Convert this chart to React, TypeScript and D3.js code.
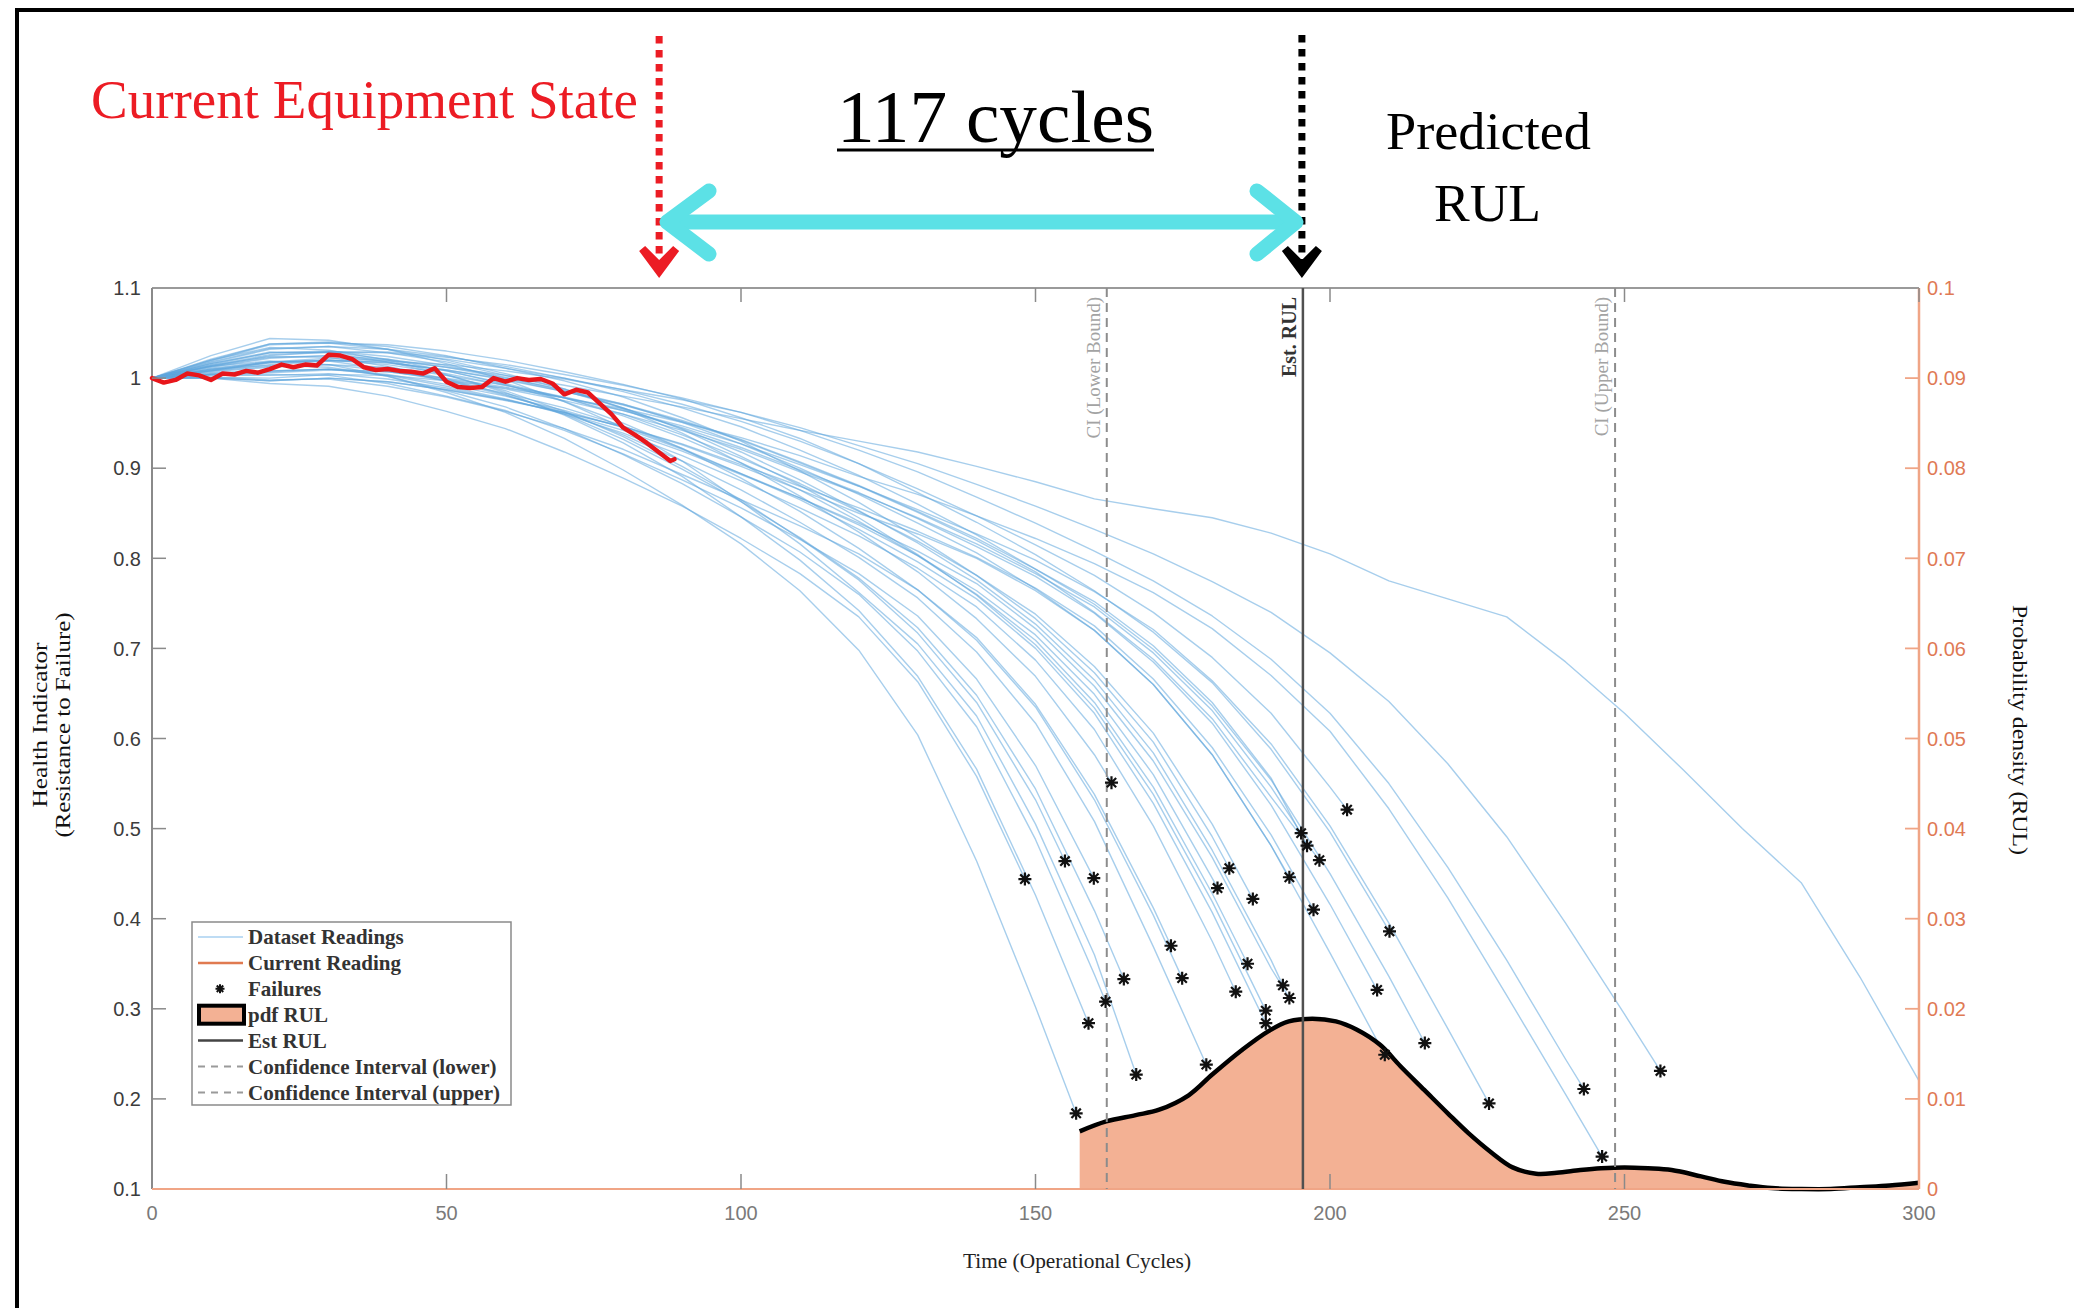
import React from "react";
import * as d3 from "d3";

// health indicator of each run-to-failure unit, sampled every 10 cycles from t = 0
const readings: number[][] = [
  [1.0, 1.0, 0.994, 0.991, 0.98, 0.963, 0.944, 0.918, 0.889, 0.858, 0.822, 0.783, 0.735, 0.663, 0.558],
  [1.0, 1.016, 1.029, 1.028, 1.018, 1.003, 0.986, 0.963, 0.935, 0.902, 0.865, 0.822, 0.776, 0.717, 0.64, 0.532],
  [1.0, 1.004, 1.004, 1.003, 0.994, 0.98, 0.964, 0.942, 0.916, 0.887, 0.856, 0.821, 0.783, 0.736, 0.666, 0.57],
  [1.0, 1.021, 1.038, 1.039, 1.032, 1.02, 1.005, 0.988, 0.966, 0.939, 0.906, 0.869, 0.829, 0.785, 0.733, 0.669, 0.582],
  [1.0, 1.013, 1.019, 1.015, 1.002, 0.984, 0.962, 0.933, 0.898, 0.859, 0.816, 0.764, 0.698, 0.604, 0.464, 0.302],
  [1.0, 1.02, 1.034, 1.031, 1.02, 1.004, 0.984, 0.959, 0.928, 0.891, 0.846, 0.798, 0.742, 0.669, 0.566, 0.426],
  [1.0, 1.01, 1.014, 1.012, 1.002, 0.986, 0.968, 0.944, 0.915, 0.883, 0.846, 0.807, 0.76, 0.697, 0.613, 0.488, 0.338],
  [1.0, 1.014, 1.024, 1.023, 1.013, 0.999, 0.982, 0.96, 0.932, 0.899, 0.863, 0.823, 0.778, 0.723, 0.648, 0.544, 0.409],
  [1.0, 1.025, 1.044, 1.042, 1.032, 1.016, 0.998, 0.974, 0.945, 0.908, 0.863, 0.816, 0.762, 0.705, 0.625, 0.505, 0.36],
  [1.0, 1.001, 0.998, 0.999, 0.991, 0.979, 0.963, 0.944, 0.921, 0.893, 0.865, 0.836, 0.805, 0.765, 0.712, 0.638, 0.538, 0.412],
  [1.0, 1.016, 1.028, 1.029, 1.021, 1.008, 0.993, 0.974, 0.95, 0.922, 0.889, 0.852, 0.811, 0.765, 0.709, 0.635, 0.532, 0.404],
  [1.0, 1.011, 1.018, 1.019, 1.01, 0.997, 0.981, 0.962, 0.937, 0.908, 0.876, 0.84, 0.801, 0.756, 0.696, 0.617, 0.508, 0.369],
  [1.0, 1.005, 1.008, 1.01, 1.004, 0.993, 0.98, 0.964, 0.945, 0.921, 0.894, 0.867, 0.837, 0.803, 0.764, 0.715, 0.649, 0.56, 0.445],
  [1.0, 1.02, 1.038, 1.04, 1.035, 1.025, 1.011, 0.997, 0.979, 0.956, 0.93, 0.897, 0.862, 0.823, 0.781, 0.733, 0.673, 0.596, 0.491],
  [1.0, 1.01, 1.018, 1.02, 1.015, 1.005, 0.992, 0.978, 0.96, 0.937, 0.911, 0.883, 0.852, 0.819, 0.781, 0.738, 0.68, 0.606, 0.505],
  [1.0, 1.006, 1.008, 1.01, 1.003, 0.991, 0.977, 0.96, 0.939, 0.914, 0.886, 0.856, 0.825, 0.789, 0.746, 0.687, 0.61, 0.503, 0.375],
  [1.0, 1.013, 1.023, 1.025, 1.018, 1.008, 0.994, 0.978, 0.958, 0.934, 0.906, 0.876, 0.841, 0.803, 0.76, 0.709, 0.64, 0.546, 0.428],
  [1.0, 1.018, 1.033, 1.035, 1.028, 1.018, 1.003, 0.988, 0.967, 0.943, 0.913, 0.881, 0.845, 0.804, 0.759, 0.704, 0.634, 0.538, 0.419],
  [1.0, 1.008, 1.013, 1.015, 1.008, 0.997, 0.983, 0.967, 0.947, 0.922, 0.894, 0.865, 0.832, 0.796, 0.755, 0.7, 0.628, 0.528, 0.407],
  [1.0, 1.015, 1.028, 1.03, 1.024, 1.014, 1.001, 0.986, 0.967, 0.944, 0.918, 0.887, 0.853, 0.817, 0.776, 0.727, 0.665, 0.584, 0.476, 0.354],
  [1.0, 1.003, 1.003, 1.005, 0.999, 0.989, 0.976, 0.961, 0.942, 0.919, 0.893, 0.867, 0.839, 0.808, 0.772, 0.722, 0.658, 0.575, 0.468, 0.345],
  [1.0, 1.012, 1.022, 1.025, 1.021, 1.012, 1.0, 0.987, 0.971, 0.951, 0.927, 0.9, 0.871, 0.839, 0.806, 0.766, 0.72, 0.66, 0.582, 0.481],
  [1.0, 1.004, 1.007, 1.01, 1.007, 0.999, 0.988, 0.975, 0.96, 0.942, 0.921, 0.896, 0.872, 0.845, 0.816, 0.783, 0.746, 0.695, 0.631, 0.546],
  [1.0, 1.017, 1.032, 1.035, 1.032, 1.024, 1.013, 1.0, 0.985, 0.967, 0.946, 0.92, 0.892, 0.86, 0.826, 0.788, 0.752, 0.703, 0.64, 0.556],
  [1.0, 1.009, 1.017, 1.02, 1.017, 1.009, 0.998, 0.985, 0.97, 0.952, 0.931, 0.906, 0.88, 0.851, 0.82, 0.785, 0.74, 0.688, 0.622, 0.535],
  [1.0, 1.0, 0.997, 1.0, 0.996, 0.987, 0.976, 0.962, 0.946, 0.927, 0.904, 0.88, 0.856, 0.83, 0.801, 0.767, 0.725, 0.666, 0.59, 0.493],
  [1.0, 1.014, 1.026, 1.029, 1.028, 1.021, 1.011, 1.0, 0.987, 0.971, 0.952, 0.93, 0.905, 0.877, 0.847, 0.815, 0.781, 0.74, 0.69, 0.628, 0.546],
  [1.0, 1.007, 1.012, 1.015, 1.012, 1.003, 0.992, 0.979, 0.964, 0.945, 0.923, 0.898, 0.873, 0.844, 0.813, 0.78, 0.739, 0.685, 0.617, 0.526, 0.416],
  [1.0, 1.019, 1.037, 1.039, 1.037, 1.03, 1.02, 1.007, 0.993, 0.977, 0.956, 0.933, 0.905, 0.873, 0.84, 0.804, 0.764, 0.718, 0.662, 0.588, 0.496],
  [1.0, 1.0, 0.997, 1.0, 0.996, 0.987, 0.975, 0.962, 0.946, 0.926, 0.902, 0.876, 0.85, 0.827, 0.8, 0.764, 0.72, 0.66, 0.582, 0.481, 0.362],
  [1.0, 1.009, 1.017, 1.02, 1.017, 1.009, 0.999, 0.985, 0.971, 0.953, 0.932, 0.907, 0.881, 0.852, 0.822, 0.788, 0.749, 0.699, 0.636, 0.554, 0.45, 0.336],
  [1.0, 1.004, 1.006, 1.009, 1.007, 1.0, 0.99, 0.978, 0.964, 0.947, 0.927, 0.904, 0.88, 0.854, 0.827, 0.798, 0.763, 0.721, 0.664, 0.594, 0.503, 0.395, 0.278],
  [1.0, 1.013, 1.025, 1.029, 1.029, 1.023, 1.015, 1.004, 0.992, 0.978, 0.962, 0.942, 0.92, 0.896, 0.868, 0.839, 0.808, 0.775, 0.736, 0.688, 0.628, 0.55, 0.457, 0.354, 0.244],
  [1.0, 1.001, 1.0, 1.004, 1.003, 0.997, 0.989, 0.978, 0.966, 0.951, 0.934, 0.914, 0.891, 0.871, 0.847, 0.822, 0.794, 0.762, 0.722, 0.67, 0.608, 0.522, 0.423, 0.315, 0.205],
  [1.0, 1.008, 1.015, 1.019, 1.019, 1.015, 1.008, 0.999, 0.987, 0.976, 0.962, 0.945, 0.925, 0.905, 0.882, 0.858, 0.832, 0.805, 0.774, 0.74, 0.695, 0.641, 0.572, 0.491, 0.395, 0.294],
  [1.0, 1.008, 1.018, 1.022, 1.02, 1.012, 1.003, 0.992, 0.98, 0.968, 0.955, 0.942, 0.93, 0.918, 0.902, 0.885, 0.866, 0.855, 0.845, 0.828, 0.805, 0.775, 0.755, 0.735, 0.685, 0.628, 0.565, 0.5, 0.44, 0.335, 0.22],
];

// failure point of each unit (the last unit does not fail before 300)
const failT = [148.2, 155.0, 159.9, 162.9, 156.9, 159.0, 161.9, 165.0, 167.1, 173.0, 174.9, 179.0, 180.9, 182.9, 186.9, 184.0, 186.0, 189.1, 189.1, 192.0, 193.1, 193.1, 195.1, 196.1, 198.2, 197.2, 202.9, 208.0, 210.1, 209.3, 216.1, 227.0, 243.1, 246.2, 256.1];
const failV = [0.444, 0.464, 0.445, 0.551, 0.184, 0.284, 0.308, 0.333, 0.227, 0.37, 0.334, 0.238, 0.434, 0.456, 0.422, 0.319, 0.35, 0.298, 0.284, 0.326, 0.312, 0.446, 0.495, 0.481, 0.465, 0.41, 0.521, 0.321, 0.386, 0.249, 0.262, 0.195, 0.211, 0.136, 0.231];

// current equipment reading
const currentT = [0, 2, 4, 6, 8, 10, 12, 14, 16, 18, 20, 22, 24, 26, 28, 30, 32, 34, 36, 38, 40, 42, 44, 46, 48, 50, 52, 54, 56, 58, 60, 62, 64, 66, 68, 70, 72, 74, 76, 78, 80, 82, 84, 86, 88, 88.7];
const currentV = [1.0, 0.995, 0.998, 1.005, 1.003, 0.998, 1.005, 1.004, 1.008, 1.006, 1.01, 1.015, 1.012, 1.015, 1.014, 1.026, 1.025, 1.021, 1.012, 1.009, 1.01, 1.008, 1.007, 1.005, 1.011, 0.996, 0.99, 0.989, 0.99, 1.0, 0.996, 1.0, 0.998, 0.999, 0.994, 0.982, 0.987, 0.984, 0.972, 0.96, 0.945, 0.937, 0.928, 0.918, 0.908, 0.91];

// probability density of RUL (right axis)
const pdfT = [157.5, 162, 167, 171, 176, 180, 185, 189.5, 193, 197, 201, 204.5, 208.5, 212, 216, 220, 223.5, 227.5, 231, 235, 238.5, 242.5, 246, 250, 254, 258, 263, 267, 271, 275, 280, 285, 290, 295, 300];
const pdfV = [0.0064, 0.0075, 0.0082, 0.0088, 0.0104, 0.0127, 0.0154, 0.0175, 0.0186, 0.0189, 0.0186, 0.0177, 0.016, 0.0136, 0.011, 0.0084, 0.0062, 0.004, 0.0024, 0.0017, 0.0018, 0.0021, 0.0023, 0.0024, 0.0023, 0.0021, 0.0014, 0.0008, 0.0004, 0.0001, 0.0, 0.0, 0.0002, 0.0004, 0.0007];

const estRUL = 195.4;
const ciLower = 162.1;
const ciUpper = 248.4;
const currentState = 86.1;

const xTicks = [0, 50, 100, 150, 200, 250, 300];
const hiTicks = [0.1, 0.2, 0.3, 0.4, 0.5, 0.6, 0.7, 0.8, 0.9, 1, 1.1];
const hiLabels = ["0.1", "0.2", "0.3", "0.4", "0.5", "0.6", "0.7", "0.8", "0.9", "1", "1.1"];
const pdfTicks = [0, 0.01, 0.02, 0.03, 0.04, 0.05, 0.06, 0.07, 0.08, 0.09, 0.1];
const pdfLabels = ["0", "0.01", "0.02", "0.03", "0.04", "0.05", "0.06", "0.07", "0.08", "0.09", "0.1"];
const legendItems = ["Dataset Readings", "Current Reading", "Failures", "pdf RUL", "Est RUL", "Confidence Interval (lower)", "Confidence Interval (upper)"];

const SERIF = "'Liberation Serif', 'DejaVu Serif', serif";
const SANS = "'Liberation Sans', Arial, sans-serif";
const SALMON = "#f3b194";
const AXIS_ORANGE = "#f0a586";
const LABEL_ORANGE = "#df7a55";
const BLUE = "#5ea6dc";

// asterisk marker like matlab '*'
const star = (s: number) => {
  const k = s * 0.72;
  return `M${-s},0H${s}M0,${-s}V${s}M${-k},${-k}L${k},${k}M${-k},${k}L${k},${-k}`;
};

export default function App() {
  const left = 152, right = 1919, top = 288, bottom = 1189;
  const x = d3.scaleLinear().domain([0, 300]).range([left, right]);
  const yHI = d3.scaleLinear().domain([0.1, 1.1]).range([bottom, top]);
  const yPdf = d3.scaleLinear().domain([0, 0.1]).range([bottom, top]);

  const hiLine = d3
    .line<[number, number]>()
    .x((d) => x(d[0]))
    .y((d) => yHI(d[1]));

  const series = readings.map((row, i) => {
    const pts: [number, number][] = row.map((v, k) => [k * 10, v]);
    if (i < failT.length) pts.push([failT[i], failV[i]]);
    return pts;
  });
  const current: [number, number][] = currentT.map((t, i) => [t, currentV[i]]);
  const pdf: [number, number][] = pdfT.map((t, i) => [t, pdfV[i]]);

  const pdfArea = d3
    .area<[number, number]>()
    .x((d) => x(d[0]))
    .y0(yPdf(0))
    .y1((d) => yPdf(d[1]))
    .curve(d3.curveCatmullRom.alpha(0.5));
  const pdfLine = d3
    .line<[number, number]>()
    .x((d) => x(d[0]))
    .y((d) => yPdf(d[1]))
    .curve(d3.curveCatmullRom.alpha(0.5));

  const xCur = x(currentState);
  const xEst = x(estRUL);
  const arrowY = 222;

  const legX = 192, legY = 922, legW = 319, legH = 183;
  const rowY = (i: number) => legY + 15 + i * 25.9;

  return (
    <div style={{ position: "absolute", left: 0, top: 0 }}>
      <svg width={2074} height={1308} style={{ display: "block", background: "#fff" }}>
        {/* frame */}
        <path d="M17,1308V10H2074" fill="none" stroke="#000" strokeWidth={4} />

        {/* annotations above the chart */}
        <text x={91} y={118} fontFamily={SERIF} fontSize={54} fill="#ec1c24" textLength={547} lengthAdjust="spacingAndGlyphs">
          Current Equipment State
        </text>
        <text x={837} y={142} fontFamily={SERIF} fontSize={75} fill="#000" textLength={317} lengthAdjust="spacingAndGlyphs">
          117 cycles
        </text>
        <line x1={837} x2={1154} y1={150} y2={150} stroke="#000" strokeWidth={3} />
        <text x={1386} y={149} fontFamily={SERIF} fontSize={53} fill="#000" textLength={205} lengthAdjust="spacingAndGlyphs">
          Predicted
        </text>
        <text x={1434} y={221} fontFamily={SERIF} fontSize={53} fill="#000" textLength={107} lengthAdjust="spacingAndGlyphs">
          RUL
        </text>

        {/* dotted markers */}
        <line x1={xCur} x2={xCur} y1={36} y2={262} stroke="#ec1c24" strokeWidth={7} strokeDasharray="7.5,6.5" />
        <path
          d={`M${xCur - 20},251L${xCur - 14},246L${xCur},260L${xCur + 14},246L${xCur + 20},251L${xCur},278Z`}
          fill="#ec1c24"
        />
        <line x1={xEst - 1} x2={xEst - 1} y1={35} y2={262} stroke="#000" strokeWidth={7} strokeDasharray="7.5,6.5" />
        <path
          d={`M${xEst - 21},251L${xEst - 15},246L${xEst - 1},260L${xEst + 13},246L${xEst + 19},251L${xEst - 1},278Z`}
          fill="#000"
        />

        {/* cyan double arrow */}
        <g stroke="#5ce1e6" strokeWidth={15} strokeLinecap="round" strokeLinejoin="round" fill="none">
          <line x1={668} x2={1295} y1={arrowY} y2={arrowY} />
          <polyline points={`709,${arrowY - 31} 667,${arrowY} 709,${arrowY + 32}`} />
          <polyline points={`1257,${arrowY - 31} 1296,${arrowY} 1257,${arrowY + 32}`} />
        </g>

        {/* plot box */}
        <line x1={left} x2={right} y1={top} y2={top} stroke="#9a9a9a" strokeWidth={2} />
        <line x1={left} x2={left} y1={top} y2={bottom} stroke="#8a8a8a" strokeWidth={2} />

        {/* dataset readings */}
        <g fill="none" stroke={BLUE} strokeOpacity={0.55} strokeWidth={1.4} strokeLinejoin="round">
          {series.map((pts, i) => (
            <path key={i} d={hiLine(pts) || ""} />
          ))}
        </g>

        {/* pdf of RUL */}
        <path d={pdfArea(pdf) || ""} fill={SALMON} />
        <path d={pdfLine(pdf) || ""} fill="none" stroke="#000" strokeWidth={4.5} />

        {/* bottom axis line (right axis colour) */}
        <line x1={left} x2={right} y1={bottom} y2={bottom} stroke={AXIS_ORANGE} strokeWidth={2} />
        <line x1={right} x2={right} y1={top} y2={bottom} stroke={AXIS_ORANGE} strokeWidth={2.5} />

        {/* vertical reference lines */}
        <line x1={x(ciLower)} x2={x(ciLower)} y1={top} y2={bottom} stroke="#8c8c8c" strokeWidth={2} strokeDasharray="9,6" />
        <line x1={x(ciUpper)} x2={x(ciUpper)} y1={top} y2={bottom} stroke="#8c8c8c" strokeWidth={2} strokeDasharray="9,6" />
        <line x1={x(estRUL)} x2={x(estRUL)} y1={top} y2={bottom} stroke="#505050" strokeWidth={2.5} />
        <text transform={`translate(${x(ciLower) - 7},297) rotate(-90)`} textAnchor="end" fontFamily={SERIF} fontSize={19} fill="#a3a3a3">
          CI (Lower Bound)
        </text>
        <text transform={`translate(${x(estRUL) - 7},297) rotate(-90)`} textAnchor="end" fontFamily={SERIF} fontSize={20} fontWeight="bold" fill="#333">
          Est. RUL
        </text>
        <text transform={`translate(${x(ciUpper) - 7},297) rotate(-90)`} textAnchor="end" fontFamily={SERIF} fontSize={19} fill="#a3a3a3">
          CI (Upper Bound)
        </text>

        {/* failures */}
        <g stroke="#111" strokeWidth={2.2} fill="none">
          {failT.map((t, i) => (
            <path key={i} transform={`translate(${x(t)},${yHI(failV[i])})`} d={star(6.5)} />
          ))}
        </g>

        {/* current reading */}
        <path d={hiLine(current) || ""} fill="none" stroke="#e8161b" strokeWidth={4.5} strokeLinejoin="round" strokeLinecap="round" />

        {/* x ticks (inside, top and bottom) */}
        {xTicks.map((t) => (
          <g key={t}>
            <line x1={x(t)} x2={x(t)} y1={top} y2={top + 14} stroke="#8a8a8a" strokeWidth={1.5} />
            {t > 0 && t < 300 && <line x1={x(t)} x2={x(t)} y1={bottom} y2={bottom - 15} stroke="#8a8a8a" strokeWidth={1.5} />}
            <text x={x(t)} y={1220} textAnchor="middle" fontFamily={SANS} fontSize={20} fill="#7a7a7a">
              {t}
            </text>
          </g>
        ))}

        {/* left axis */}
        {hiTicks.map((v, i) => (
          <g key={v}>
            {i > 0 && i < hiTicks.length - 1 && <line x1={left} x2={left + 14} y1={yHI(v)} y2={yHI(v)} stroke="#8a8a8a" strokeWidth={1.5} />}
            <text x={141} y={yHI(v)} dy="0.36em" textAnchor="end" fontFamily={SANS} fontSize={20} fill="#3c3c3c">
              {hiLabels[i]}
            </text>
          </g>
        ))}

        {/* right axis */}
        {pdfTicks.map((v, i) => (
          <g key={v}>
            {i > 0 && i < pdfTicks.length - 1 && <line x1={right} x2={right - 14} y1={yPdf(v)} y2={yPdf(v)} stroke={AXIS_ORANGE} strokeWidth={1.8} />}
            <text x={1927} y={yPdf(v)} dy="0.36em" fontFamily={SANS} fontSize={20} fill={LABEL_ORANGE}>
              {pdfLabels[i]}
            </text>
          </g>
        ))}

        {/* axis titles */}
        <text transform="translate(47,725) rotate(-90)" textAnchor="middle" fontFamily={SERIF} fontSize={21} fill="#111" textLength={165} lengthAdjust="spacingAndGlyphs">
          Health Indicator
        </text>
        <text transform="translate(70,725) rotate(-90)" textAnchor="middle" fontFamily={SERIF} fontSize={21} fill="#111" textLength={225} lengthAdjust="spacingAndGlyphs">
          (Resistance to Failure)
        </text>
        <text transform="translate(2013,730) rotate(90)" textAnchor="middle" fontFamily={SERIF} fontSize={21} fill="#111" textLength={250} lengthAdjust="spacingAndGlyphs">
          Probability density (RUL)
        </text>
        <text x={1077} y={1268} textAnchor="middle" fontFamily={SERIF} fontSize={21} fill="#222" textLength={228} lengthAdjust="spacingAndGlyphs">
          Time (Operational Cycles)
        </text>

        {/* legend */}
        <rect x={legX} y={legY} width={legW} height={legH} fill="#fff" stroke="#8a8a8a" strokeWidth={1.5} />
        <line x1={198} x2={243} y1={rowY(0)} y2={rowY(0)} stroke="#a9d0f0" strokeWidth={1.6} />
        <line x1={198} x2={243} y1={rowY(1)} y2={rowY(1)} stroke="#e07a50" strokeWidth={2.5} />
        <path transform={`translate(220,${rowY(2)})`} d={star(4.5)} stroke="#111" strokeWidth={2} fill="none" />
        <rect x={199} y={rowY(3) - 9} width={45} height={18} fill={SALMON} stroke="#000" strokeWidth={4} />
        <line x1={198} x2={243} y1={rowY(4)} y2={rowY(4)} stroke="#444" strokeWidth={2.5} />
        <line x1={198} x2={243} y1={rowY(5)} y2={rowY(5)} stroke="#9a9a9a" strokeWidth={2} strokeDasharray="7,6" />
        <line x1={198} x2={243} y1={rowY(6)} y2={rowY(6)} stroke="#9a9a9a" strokeWidth={2} strokeDasharray="7,6" />
        {legendItems.map((s, i) => (
          <text key={s} x={248} y={rowY(i)} dy="0.35em" fontFamily={SERIF} fontSize={21} fontWeight="bold" fill="#333">
            {s}
          </text>
        ))}
      </svg>
    </div>
  );
}
